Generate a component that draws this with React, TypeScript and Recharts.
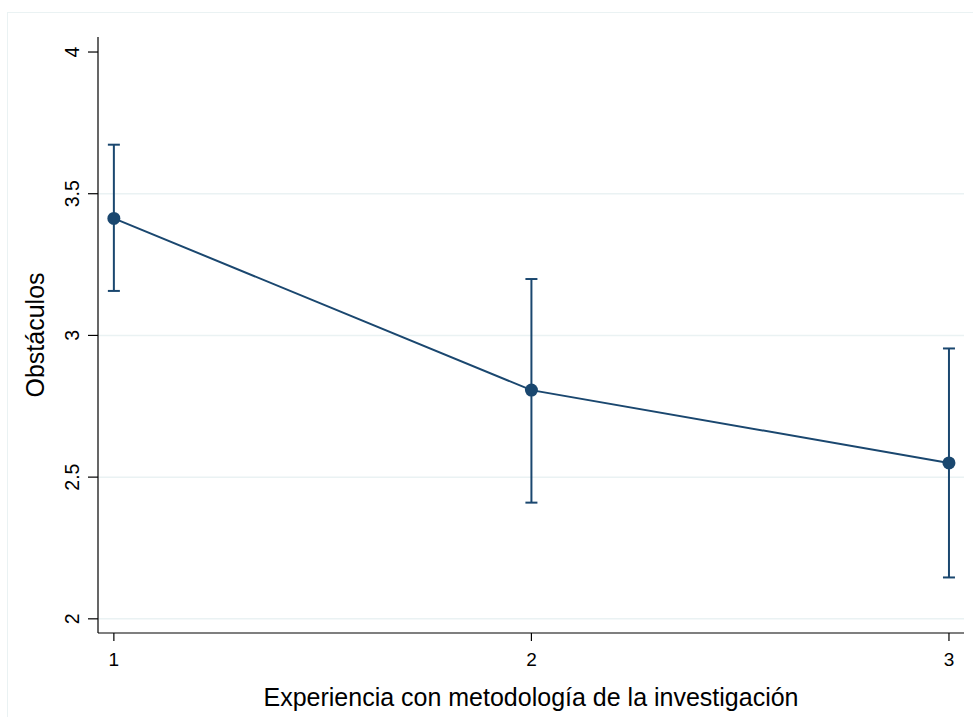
import React from "react";
import {
  LineChart,
  Line,
  XAxis,
  YAxis,
  ErrorBar,
  CartesianGrid,
  Label,
} from "recharts";

// Obstáculos (media e IC 95%) por nivel de experiencia
const experiencia = [1, 2, 3];
const obstaculosMedia = [3.413, 2.807, 2.55];
const icInferior = [3.157, 2.41, 2.146];
const icSuperior = [3.673, 3.199, 2.954];

const xTicks = [1, 2, 3];
const yTicks = [2, 2.5, 3, 3.5, 4];
const gridValues = [2, 2.5, 3, 3.5];

const NAVY = "#1a476f";
const GRID = "#eaf2f3";
const FONT = "'Liberation Sans', Arial, Helvetica, sans-serif";

const data = experiencia.map((x, i) => ({
  x,
  media: obstaculosMedia[i],
  err: [obstaculosMedia[i] - icInferior[i], icSuperior[i] - obstaculosMedia[i]],
}));

// Stata draws y tick labels turned on their side
function YTick(props: any) {
  const { x, y, payload } = props;
  return (
    <text
      x={x}
      y={y}
      transform={`rotate(-90, ${x}, ${y})`}
      textAnchor="middle"
      fontSize={19.5}
      fontFamily={FONT}
      fill="#000"
    >
      {payload.value}
    </text>
  );
}

function YTitle(props: any) {
  const vb = props.viewBox;
  const x = vb.x + 44;
  const y = vb.y + vb.height / 2;
  return (
    <text
      x={x}
      y={y}
      transform={`rotate(-90, ${x}, ${y})`}
      textAnchor="middle"
      fontSize={25}
      fontFamily={FONT}
      fill="#000"
    >
      Obstáculos
    </text>
  );
}

export default function App() {
  return (
    <div
      style={{
        position: "absolute",
        left: 0,
        top: 0,
        width: 973,
        height: 717,
        background: "#fff",
        overflow: "hidden",
      }}
    >
      <div
        style={{
          position: "absolute",
          left: 7,
          top: 12,
          width: 966,
          height: 705,
          boxSizing: "border-box",
          borderLeft: `1px solid ${GRID}`,
          borderTop: `1px solid ${GRID}`,
        }}
      />
      <div style={{ position: "absolute", left: 0, top: 0 }}>
        <LineChart
          width={973}
          height={717}
          data={data}
          margin={{ top: 37, right: 9, bottom: 0, left: 0 }}
        >
          <CartesianGrid
            vertical={false}
            horizontalValues={gridValues}
            stroke={GRID}
            strokeWidth={1.5}
          />
          <XAxis
            dataKey="x"
            type="number"
            domain={[0.962, 3.036]}
            ticks={xTicks}
            height={84}
            tickSize={8}
            tickMargin={12}
            stroke="#000"
            strokeWidth={1.2}
            tick={{ fontSize: 19, fontFamily: FONT, fill: "#000" }}
            allowDataOverflow
          >
            <Label
              value="Experiencia con metodología de la investigación"
              position="insideBottom"
              offset={11}
              style={{ fontSize: 25, fontFamily: FONT, fill: "#000" }}
            />
          </XAxis>
          <YAxis
            type="number"
            domain={[1.95, 4.053]}
            ticks={yTicks}
            width={98}
            tickSize={10}
            tickMargin={9}
            stroke="#000"
            strokeWidth={1.2}
            tick={<YTick />}
            allowDataOverflow
          >
            <Label content={<YTitle />} />
          </YAxis>
          <Line
            dataKey="media"
            stroke={NAVY}
            strokeWidth={2}
            dot={{ r: 6.5, fill: NAVY, stroke: NAVY, strokeWidth: 0 }}
            activeDot={false}
            isAnimationActive={false}
          >
            <ErrorBar
              dataKey="err"
              direction="y"
              width={6}
              stroke={NAVY}
              strokeWidth={2}
              isAnimationActive={false}
            />
          </Line>
        </LineChart>
      </div>
    </div>
  );
}
